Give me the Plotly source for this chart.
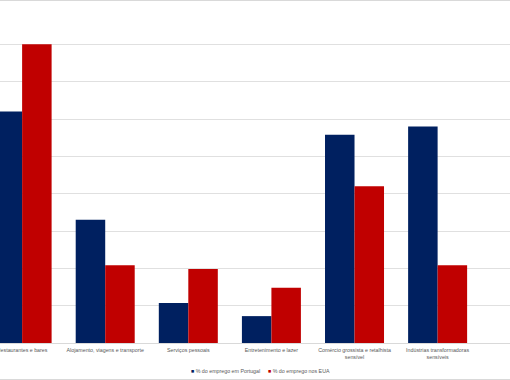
import plotly.graph_objects as go

categories = [
    "Restaurantes e bares",
    "Alojamento, viagens e transporte",
    "Serviços pessoais",
    "Entretenimento e lazer",
    "Comércio grossista e retalhista<br>sensível",
    "Indústrias transformadoras<br>sensíveis",
]
portugal = [6.2, 3.3, 1.07, 0.72, 5.58, 5.8]
eua = [8.0, 2.08, 1.98, 1.48, 4.2, 2.08]
series_names = ["% do emprego em Portugal", "% do emprego nos EUA"]
colors = ["#002060", "#C00000"]

W, H = 510, 380
T, B = 7, 37
PH = H - T - B

fig = go.Figure()
fig.add_trace(go.Bar(x=categories, y=portugal, name=series_names[0],
                     marker=dict(color=colors[0], line=dict(width=0))))
fig.add_trace(go.Bar(x=categories, y=eua, name=series_names[1],
                     marker=dict(color=colors[1], line=dict(width=0))))

def py(p):
    return (H - B - p) / PH

fig.update_layout(
    width=W, height=H,
    margin=dict(l=0, r=0, t=T, b=B, pad=0),
    paper_bgcolor="white", plot_bgcolor="white",
    barmode="group", bargap=0.29, bargroupgap=0,
    showlegend=False,
    font=dict(family="Liberation Sans", size=5.3, color="#595959"),
    xaxis=dict(range=[-0.266, 5.871], showline=True, linecolor="#d9d9d9", linewidth=1,
               showgrid=False, ticks="outside", ticklen=2, tickcolor="rgba(0,0,0,0)",
               automargin=False, tickfont=dict(size=5.3, color="#595959")),
    yaxis=dict(range=[0, 9], dtick=1, showticklabels=False, showgrid=True,
               gridcolor="#e0e0e0", gridwidth=1, zeroline=False, showline=False,
               automargin=False),
    shapes=[
        dict(type="line", xref="paper", yref="paper", x0=0, x1=1, y0=py(0.5), y1=py(0.5),
             line=dict(color="#d9d9d9", width=1)),
        dict(type="line", xref="paper", yref="paper", x0=0, x1=1, y0=py(379.5), y1=py(379.5),
             line=dict(color="#d9d9d9", width=1)),
    ],
    annotations=[
        dict(xref="paper", yref="paper", x=189 / W, y=py(370.5), xanchor="left", yanchor="middle",
             showarrow=False, font=dict(size=5.3, color="#595959"),
             text=f"<span style='color:{colors[0]}'>■</span> {series_names[0]}"),
        dict(xref="paper", yref="paper", x=265.5 / W, y=py(370.5), xanchor="left", yanchor="middle",
             showarrow=False, font=dict(size=5.3, color="#595959"),
             text=f"<span style='color:{colors[1]}'>■</span> {series_names[1]}"),
    ],
)

fig.write_html("out.html", config={"displayModeBar": False, "staticPlot": True})
with open("out.html", "r", encoding="utf-8") as f:
    html = f.read()
html = html.replace("<head>", "<head><style>html,body{margin:0;padding:0;overflow:hidden}</style>", 1)
with open("out.html", "w", encoding="utf-8") as f:
    f.write(html)
